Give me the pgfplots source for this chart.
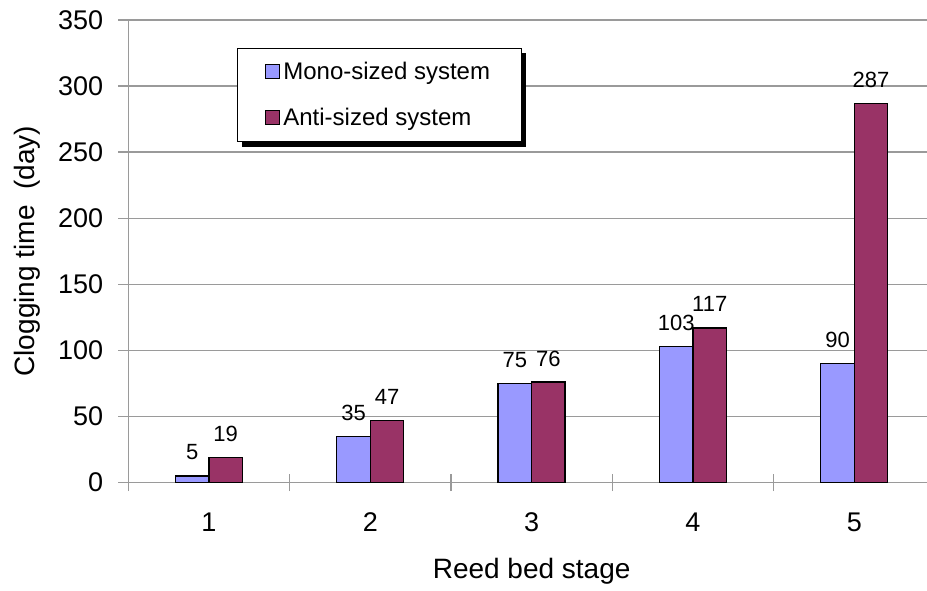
\documentclass[border=0pt]{standalone}
\usepackage{pgfplots}
\pgfplotsset{compat=1.18}
\usepackage{fontspec}
\setmainfont{Liberation Sans}
\definecolor{mono}{HTML}{9999FF}
\definecolor{anti}{HTML}{993366}
\definecolor{gridgray}{HTML}{9A9A9A}

\begin{document}
\begin{tikzpicture}
\path[use as bounding box] (-128.3pt,-107.5pt) rectangle (798.7pt,482.5pt);
\begin{axis}[
  at={(0,0)}, anchor=south west,
  scale only axis, width=806.7pt, height=462.5pt,
  xmin=0.5, xmax=5.5, ymin=0, ymax=350,
  ybar=0pt, bar width=33.5pt,
  axis lines=left,
  axis line style={-, gridgray, line width=1.3pt},
  xtick={1,2,3,4,5},
  minor xtick={0.5,1.5,2.5,3.5,4.5,5.5},
  ytick={0,50,...,350},
  tick align=center,
  major tick length=20pt, minor tick length=17pt,
  major x tick style={draw=none},
  minor x tick style={gridgray, line width=1.3pt},
  ytick style={gridgray, line width=1.3pt},
  ymajorgrids,
  major grid style={gridgray, line width=1.3pt},
  /pgf/number format/assume math mode=true,
  ticklabel style={font=\fontsize{27}{30}\selectfont},
  xticklabel style={anchor=north, inner sep=0pt, yshift=-20pt},
  yticklabel style={anchor=east, inner sep=0pt, xshift=-15pt},
  xlabel={Reed bed stage},
  ylabel={Clogging time\ \ (day)},
  every axis x label/.style={at={(axis description cs:0.5,0)}, anchor=base, yshift=-95.5pt, font=\fontsize{28}{32}\selectfont},
  every axis y label/.style={at={(axis description cs:-0.1256,0.5)}, rotate=90, anchor=center, font=\fontsize{28}{32}\selectfont},
  nodes near coords,
  nodes near coords style={font=\fontsize{22}{24}\selectfont, anchor=base, inner sep=0pt, yshift=16pt, black},
  legend cell align=left,
  legend image code/.code={\draw[#1, draw=black, line width=1pt] (0pt,-6.5pt) rectangle (14pt,7.5pt);},
  legend style={
    name=leg,
    at={(0.1347,0.9395)}, anchor=north west,
    draw=black, line width=0.8pt, fill=white,
    font=\fontsize{24}{27}\selectfont,
    inner xsep=28pt, inner ysep=14pt, row sep=27pt,
    nodes={inner xsep=3pt, inner ysep=0pt},
  },
]
\addplot[fill=mono, draw=black, line width=1.3pt] coordinates {(1,5) (2,35) (3,75) (4,103) (5,90)};
\addplot[fill=anti, draw=black, line width=1.3pt] coordinates {(1,19) (2,47) (3,76) (4,117) (5,287)};
\legend{Mono-sized system, Anti-sized system}
\end{axis}
% legend shadow
\fill[black] ([yshift=-5pt]leg.north east) rectangle ([xshift=5pt,yshift=-5pt]leg.south east);
\fill[black] ([xshift=5pt]leg.south west) rectangle ([xshift=5pt,yshift=-5pt]leg.south east);
\end{tikzpicture}
\end{document}
